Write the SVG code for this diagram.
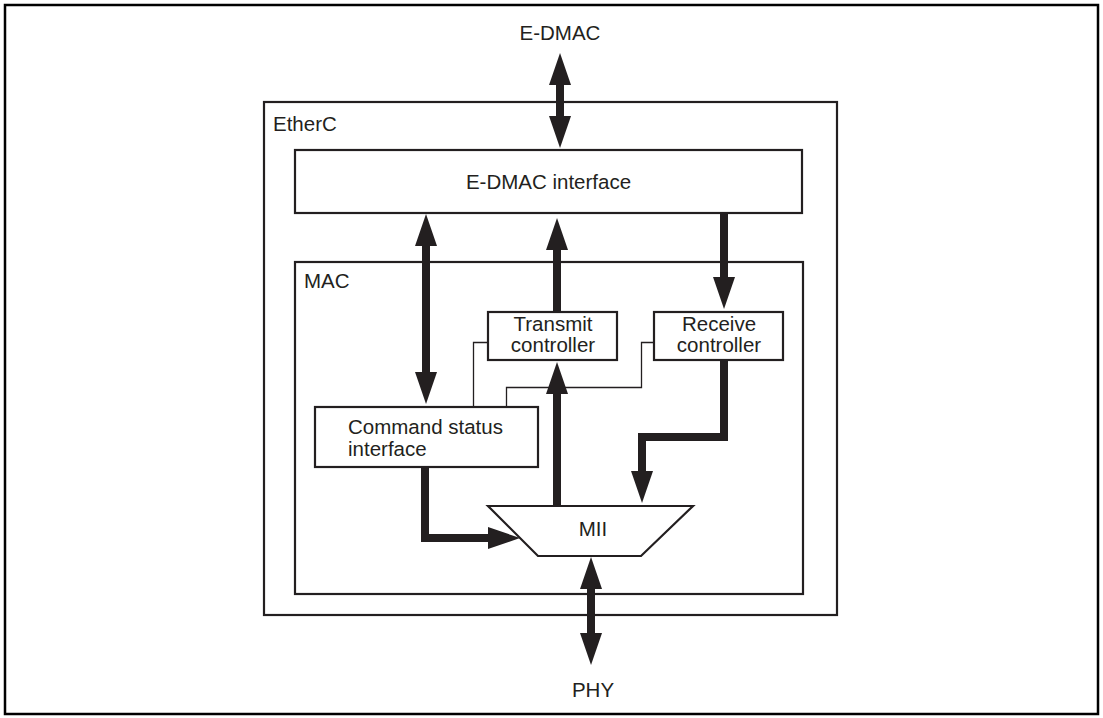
<svg xmlns="http://www.w3.org/2000/svg" width="1103" height="718" viewBox="0 0 1103 718">
<defs>
<style>
.box{fill:#fff;stroke:#231f20;stroke-width:2.2}
.frame{fill:none;stroke:#000;stroke-width:2.5}
.lbl{font-family:"Liberation Sans",Arial,sans-serif;font-size:20.5px;fill:#231f20}
.mid{text-anchor:middle}
.bus{fill:none;stroke:#231f20;stroke-width:8;stroke-linejoin:miter;stroke-linecap:butt}
.thin{fill:none;stroke:#231f20;stroke-width:1.3}
</style>
<marker id="ah" viewBox="0 0 32 22" refX="12" refY="11" markerWidth="32" markerHeight="22" markerUnits="userSpaceOnUse" orient="auto-start-reverse">
<path d="M0,0 L32,11 L0,22 z" fill="#231f20"/>
</marker>
</defs>
<rect x="0" y="0" width="1103" height="718" fill="#fff"/>
<rect class="frame" x="5" y="5" width="1093" height="709"/>
<g id="etherc">
<rect class="box" x="264" y="102" width="573" height="513"/>
<text class="lbl" x="273" y="131">EtherC</text>
</g>
<g id="mac">
<rect class="box" x="295" y="262" width="508" height="332"/>
<text class="lbl" x="304" y="288">MAC</text>
</g>
<g id="edmac-interface">
<rect class="box" x="295" y="150" width="507" height="63"/>
<text class="lbl mid" x="548.5" y="189">E-DMAC interface</text>
</g>
<g id="connectors-thin">
<path class="thin" d="M473.5,407 V342.5 H488"/>
<path class="thin" d="M506.5,407 V387.5 H641.5 V342.5 H654"/>
</g>
<g id="transmit-controller">
<rect class="box" x="488" y="312" width="129" height="48"/>
<text class="lbl mid" x="553" y="331">Transmit</text>
<text class="lbl mid" x="553" y="352">controller</text>
</g>
<g id="receive-controller">
<rect class="box" x="654" y="312" width="129" height="48"/>
<text class="lbl mid" x="719" y="331">Receive</text>
<text class="lbl mid" x="719" y="352">controller</text>
</g>
<g id="command-status-interface">
<rect class="box" x="315" y="407" width="223" height="60"/>
<text class="lbl" x="348" y="434">Command status</text>
<text class="lbl" x="348" y="455.5">interface</text>
</g>
<g id="mii">
<path class="box" d="M488,506 L693,506 L641,556 L538,556 Z"/>
<text class="lbl mid" x="593" y="536">MII</text>
</g>
<g id="edmac-label">
<text class="lbl mid" x="560" y="40">E-DMAC</text>
</g>
<g id="phy-label">
<text class="lbl mid" x="593" y="697">PHY</text>
</g>
<g id="connectors">
<line class="bus" x1="560" y1="73" x2="560" y2="128" marker-start="url(#ah)" marker-end="url(#ah)"/>
<line class="bus" x1="426" y1="234" x2="426" y2="384" marker-start="url(#ah)" marker-end="url(#ah)"/>
<line class="bus" x1="557" y1="312" x2="557" y2="238" marker-end="url(#ah)"/>
<line class="bus" x1="724" y1="213" x2="724" y2="289" marker-end="url(#ah)"/>
<path class="bus" d="M724,360 V437 H642 V483" marker-end="url(#ah)"/>
<line class="bus" x1="557" y1="506" x2="557" y2="382" marker-end="url(#ah)"/>
<path class="bus" d="M425,467 V538 H500" marker-end="url(#ah)"/>
<line class="bus" x1="591" y1="577" x2="591" y2="645" marker-start="url(#ah)" marker-end="url(#ah)"/>
</g>
</svg>
